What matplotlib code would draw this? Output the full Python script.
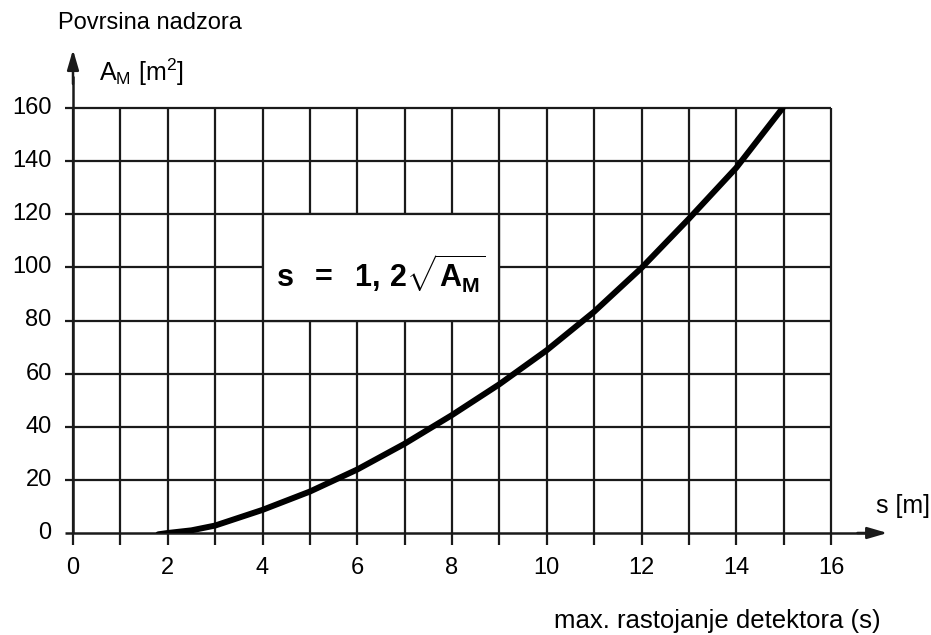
import numpy as np
import matplotlib.pyplot as plt
from matplotlib.patches import Rectangle

plt.rcParams['font.family'] = ['Liberation Sans', 'DejaVu Sans']
plt.rcParams['mathtext.fontset'] = 'custom'
plt.rcParams['mathtext.rm'] = 'Liberation Sans'
plt.rcParams['mathtext.it'] = 'Liberation Sans'
plt.rcParams['mathtext.bf'] = 'Liberation Sans:bold'

s_vals = [1.8, 2.0, 2.5, 3.0, 4.0, 5.0, 6.0, 7.0, 8.0, 9.0, 10.0, 11.0, 12.0, 13.0, 14.0, 14.98]
a_vals = [-0.5, 0.0, 1.0, 2.8, 8.7, 15.6, 23.9, 33.6, 44.4, 56.0, 68.8, 83.3, 99.8, 118.3, 137.5, 160.0]

x_ticks = [0, 2, 4, 6, 8, 10, 12, 14, 16]
y_ticks = [0, 20, 40, 60, 80, 100, 120, 140, 160]
x_grid = list(range(0, 17))

fig = plt.figure(figsize=(9.31, 6.35), dpi=100)
ax = fig.add_axes([73 / 931, (635 - 533) / 635, 758 / 931, 425 / 635])
ax.set_xlim(0, 16)
ax.set_ylim(0, 160)
ax.axis('off')

gc = '#1a1a1a'
# grid, with small overhangs acting as ticks
ax.vlines(x_grid, -4.5, 160, colors=gc, lw=1.6, clip_on=False)
ax.hlines(y_ticks[1:], -0.17, 16, colors=gc, lw=1.6, clip_on=False)
ax.hlines(0, -0.17, 16.9, colors=gc, lw=1.8, clip_on=False)
ax.vlines(0, 0, 172, colors=gc, lw=1.8, clip_on=False)

# arrows
ax.annotate('', xy=(17.25, 0), xytext=(16.5, 0), annotation_clip=False,
            arrowprops=dict(arrowstyle='-|>,head_length=1.2,head_width=0.35', color=gc, lw=1.8))
ax.annotate('', xy=(0, 183), xytext=(0, 168), annotation_clip=False,
            arrowprops=dict(arrowstyle='-|>,head_length=1.2,head_width=0.35', color=gc, lw=1.8))

# white box for the formula
ax.add_patch(Rectangle((4, 80), 5, 40, facecolor='white', edgecolor=gc, lw=1.6, zorder=3))
ax.text(6.5, 97.5, r"$\mathbf{s\ \ =\ \ 1,\/2}\sqrt{\mathbf{A_M}}$", fontsize=22,
        ha='center', va='center', zorder=4)

ax.plot(s_vals, a_vals, color='black', lw=4.3, solid_capstyle='round',
        solid_joinstyle='round', zorder=5)

for v in x_ticks:
    ax.text(v, -13, str(v), ha='center', va='center', fontsize=17, clip_on=False)
for v in y_ticks:
    ax.text(-0.45, v, str(v), ha='right', va='center', fontsize=17, clip_on=False)

ax.text(0.55, 173.5, r"$\mathrm{A_M}$ [m$^\mathrm{2}$]", ha='left', va='center', fontsize=18)
ax.text(-0.32, 192, 'Povrsina nadzora', ha='left', va='center', fontsize=17)
ax.text(16.95, 10, 's [m]', ha='left', va='center', fontsize=18)
ax.text(13.6, -33, 'max. rastojanje detektora (s)', ha='center', va='center', fontsize=18.5)

fig.savefig('out.png', dpi=100)
